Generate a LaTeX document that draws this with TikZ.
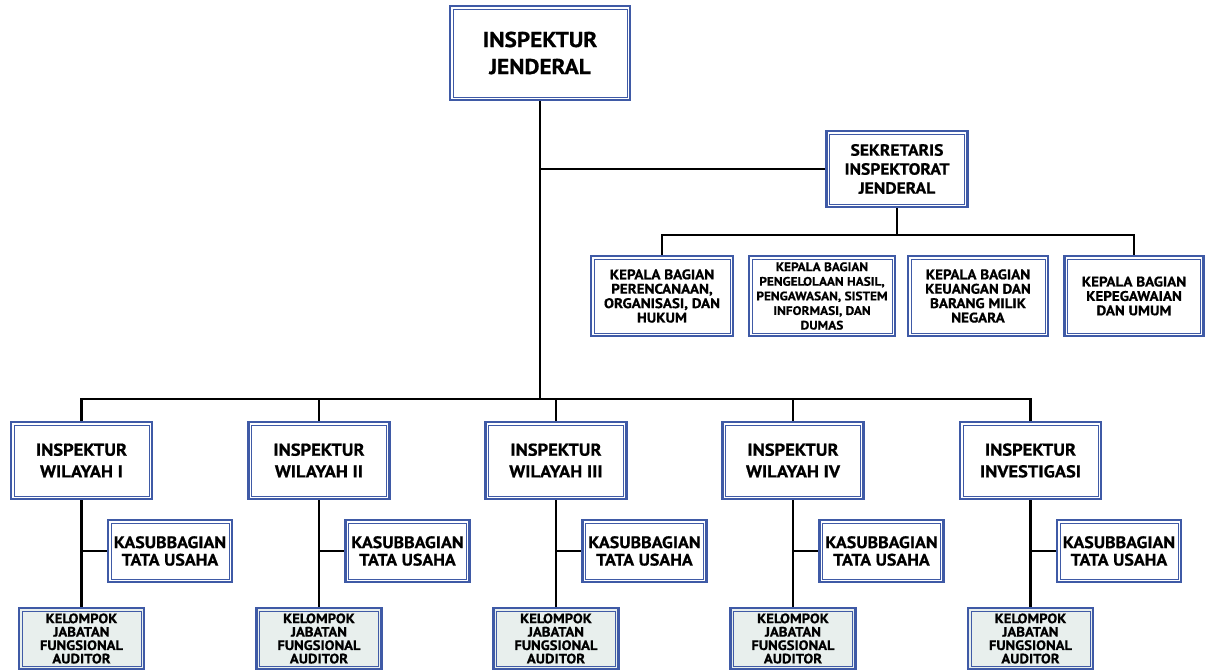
\documentclass[tikz,border=0pt]{standalone}
\usepackage{fontspec}
\setmainfont{PT Sans}[FakeStretch=1.08, BoldFeatures={FakeBold=0.7}]
\usetikzlibrary{backgrounds}
\definecolor{bblue}{HTML}{3F5AA6}
\definecolor{kfill}{HTML}{E8EFED}
\tikzset{
  box/.style={draw=bblue, line width=2.4pt, fill=white, align=center, inner sep=0pt, outer sep=0pt},
  innerb/.style={draw=bblue, line width=0.9pt},
  conn/.style={line width=2.5pt, black},
  ftop/.style={font=\bfseries\fontsize{21.5}{27}\selectfont},
  fsek/.style={font=\bfseries\fontsize{16.2}{19}\selectfont},
  fbag/.style={font=\bfseries\fontsize{13.9}{14.4}\selectfont},
  fbagb/.style={font=\bfseries\fontsize{12.3}{14.6}\selectfont},
  fins/.style={font=\bfseries\fontsize{17.1}{21.7}\selectfont},
  fkas/.style={font=\bfseries\fontsize{16.6}{17.5}\selectfont},
  fkel/.style={font=\bfseries\fontsize{13.6}{13.4}\selectfont},
  insbox/.style={box, fins, minimum width=141pt, minimum height=77pt},
  kasbox/.style={box, fkas, minimum width=124pt, minimum height=62pt},
  kelbox/.style={box, fkel, fill=kfill, minimum width=125pt, minimum height=61pt},
  bagbox/.style={box, fbag, minimum height=80pt},
}
\begin{document}
\begin{tikzpicture}[x=1pt,y=-1pt]
\useasboundingbox (0,0) rectangle (1206,671);

\node[box, ftop, minimum width=180pt, minimum height=94pt] (top) at (540,53) {INSPEKTUR\\JENDERAL};
\node[box, fsek, minimum width=141pt, minimum height=76pt] (sek) at (897,169) {SEKRETARIS\\INSPEKTORAT\\JENDERAL};

\node[bagbox, minimum width=142pt] (b1) at (662,296) {KEPALA BAGIAN\\PERENCANAAN,\\ORGANISASI, DAN\\HUKUM};
\node[bagbox, fbagb, minimum width=146pt] (b2) at (822,296) {KEPALA BAGIAN\\PENGELOLAAN HASIL,\\PENGAWASAN, SISTEM\\INFORMASI, DAN\\DUMAS};
\node[bagbox, minimum width=140pt] (b3) at (978,296) {KEPALA BAGIAN\\KEUANGAN DAN\\BARANG MILIK\\NEGARA};
\node[bagbox, minimum width=139pt] (b4) at (1134,296) {KEPALA BAGIAN\\KEPEGAWAIAN\\DAN UMUM};

\foreach \k/\cx/\t in {1/81.5/{INSPEKTUR\\WILAYAH I}, 2/319/{INSPEKTUR\\WILAYAH II}, 3/556/{INSPEKTUR\\WILAYAH III}, 4/793/{INSPEKTUR\\WILAYAH IV}, 5/1030.5/{INSPEKTUR\\INVESTIGASI}}{
  \node[insbox] (i\k) at (\cx,460.5) {\t};
  \node[kasbox] (k\k) at (\cx+88.5,551) {KASUBBAGIAN\\TATA USAHA};
  \node[kelbox] (g\k) at (\cx,638.5) {KELOMPOK\\JABATAN\\FUNGSIONAL\\AUDITOR};
}

\foreach \n in {top,sek,b1,b2,b3,b4,i1,i2,i3,i4,i5,k1,k2,k3,k4,k5,g1,g2,g3,g4,g5}{
  \draw[innerb] ([shift={(3,3)}]\n.north west) rectangle ([shift={(-3,-3)}]\n.south east);
}

\begin{scope}[on background layer]
  \coordinate (bar) at (540,399);
  \coordinate (sbar) at (897,235);
  \draw[conn] (top.south) -- (bar);
  \draw[conn] (sek.west) -- (sek.west -| bar);
  \draw[conn] (i1.north) |- (bar) -| (i5.north);
  \foreach \k in {2,3,4}{ \draw[conn] (i\k.north) -- (i\k.north |- bar); }
  \draw[conn] (sek.south) -- (sbar);
  \draw[conn] (b1.north) |- (sbar) -| (b4.north);
  \foreach \k in {1,...,5}{
    \draw[conn] (i\k.south) -- (g\k.north);
    \draw[conn] (k\k.west) -- (k\k.west -| i\k.south);
  }
\end{scope}
\end{tikzpicture}
\end{document}
